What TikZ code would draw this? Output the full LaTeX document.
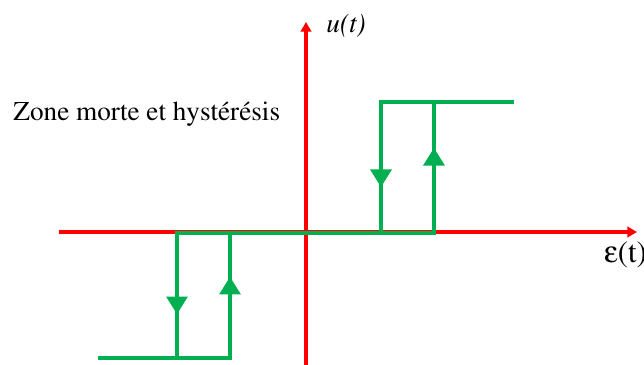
\documentclass[tikz,border=0pt]{standalone}
\usepackage[T1]{fontenc}
\usepackage{mathptmx}
\usepackage[Symbol]{upgreek}
\usetikzlibrary{arrows.meta,decorations.markings}
\definecolor{axisred}{RGB}{255,0,0}
\definecolor{loopgreen}{RGB}{0,176,80}

\begin{document}
\begin{tikzpicture}[
  x=0.441pt, y=-0.441pt,
  axis/.style={draw=axisred, line width=1.76pt, -{Triangle[length=4.2pt, width=4.6pt]}},
  branch/.style={draw=loopgreen, line width=1.6pt, line cap=rect},
  jump/.style={branch, postaction={decorate},
    decoration={markings, mark=at position 0.65 with {\arrow[loopgreen]{Triangle[length=7.8pt, width=9.2pt]}}}},
  lbl/.style={font=\fontsize{12}{14}\selectfont, inner sep=0pt, anchor=base west}
]
\useasboundingbox (0,0) rectangle (644,365);
% axes
\coordinate (xstart) at (59,232);
\coordinate (xend) at (637,232);
\coordinate (ystart) at (306,365);
\coordinate (yend) at (306,22);
\draw[axis] (xstart) -- (xend);
\draw[axis] (ystart) -- (yend);
% hysteresis corners
\coordinate (lowA) at (100,358);
\coordinate (lowB) at (177,358);
\coordinate (lowC) at (230,358);
\coordinate (midA) at (177,233);
\coordinate (midB) at (230,233);
\coordinate (midC) at (381,233);
\coordinate (midD) at (434,233);
\coordinate (highA) at (381,102);
\coordinate (highB) at (434,102);
\coordinate (highC) at (512,102);
\draw[branch] (lowA) -- (lowC);
\draw[branch] (midA) -- (midD);
\draw[branch] (highA) -- (highC);
\draw[jump] (midA) -- (lowB);
\draw[jump] (lowC) -- (midB);
\draw[jump] (highA) -- (midC);
\draw[jump] (midD) -- (highB);
% labels
\node[lbl] (ulabel) at (326,33) {\textit{u(t)}};
\node[lbl, font=\fontsize{13.5}{16}\selectfont] (epslabel) at (604,263) {$\upepsilon$(t)};
\node[lbl] (title) at (13,121) {Zone morte et hyst\'er\'esis};
\end{tikzpicture}
\end{document}
